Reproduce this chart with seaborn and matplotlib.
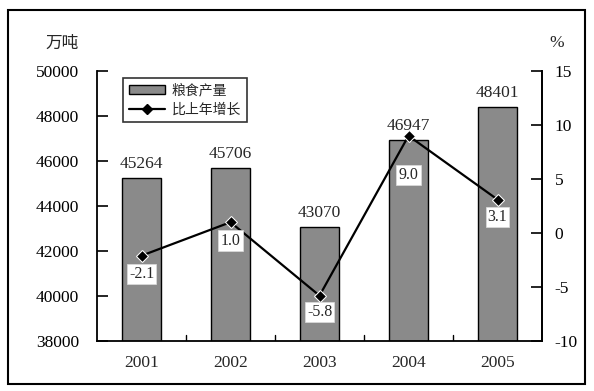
import numpy as np
import pandas as pd
import matplotlib
matplotlib.use("Agg")
import matplotlib.pyplot as plt
import seaborn as sns
from matplotlib.patches import Patch, Rectangle
import matplotlib.lines as mlines

# data
years = ['2001', '2002', '2003', '2004', '2005']
output = [45264, 45706, 43070, 46947, 48401]      # 万吨
growth = [-2.1, 1.0, -5.8, 9.0, 3.1]              # %
lab_drop = [1.7, 1.7, 1.5, 3.6, 1.6]              # label offset below marker

sns.set_theme(style="white")
plt.rcParams['font.family'] = ['Liberation Serif', 'Noto Sans CJK SC']
plt.rcParams['axes.unicode_minus'] = False
cjk = ['Noto Sans CJK SC', 'DejaVu Sans']

df = pd.DataFrame({'year': years, 'output': output, 'growth': growth})
df['pos'] = np.arange(len(years))

fig = plt.figure(figsize=(5.94, 3.91), dpi=100)
ax = fig.add_axes([97/594, 50/391, 445/594, 270/391])

sns.barplot(data=df, x='year', y='output', color='#8a8a8a', width=0.43,
            edgecolor='black', linewidth=1.0, saturation=1, ax=ax)
ax.set_ylim(38000, 50000)
ax.set_xlim(-0.5, 4.5)
ax.set_yticks(np.arange(38000, 50001, 2000))
ax.set_xticks(np.arange(len(years)))
ax.set_xticklabels(years)
ax.set_xlabel('')
ax.set_ylabel('')
for i, v in enumerate(output):
    ax.text(i, v + 250, str(v), ha='center', va='bottom', fontsize=12.5)

# category separators on bottom axis
for xb in np.arange(0.5, 4.5, 1):
    ax.plot([xb, xb], [38000, 38250], color='black', lw=1)

ax2 = ax.twinx()
sns.lineplot(data=df, x='pos', y='growth', color='black', marker='D',
             markersize=6, linewidth=1.6, ax=ax2)
ax2.set_ylim(-10, 15)
ax2.set_yticks(np.arange(-10, 16, 5))
ax2.set_ylabel('')
ax2.set_xlabel('')
for i, g in enumerate(growth):
    ax2.text(i, g - lab_drop[i], '%.1f' % g, ha='center', va='center', fontsize=11.5,
             bbox=dict(facecolor='white', edgecolor='#dddddd', linewidth=0.5, pad=1.5))

for a in (ax, ax2):
    a.spines['top'].set_visible(False)
    a.tick_params(axis='y', direction='in', length=8, width=1.2, colors='black',
                  labelsize=12.5)
    a.tick_params(axis='x', length=0, labelsize=12.5, pad=10)
ax.tick_params(axis='y', pad=13)
ax2.tick_params(axis='y', pad=9)
ax.spines['left'].set_linewidth(1.3)
ax.spines['bottom'].set_linewidth(1.3)
ax2.spines['right'].set_linewidth(1.3)
ax2.spines['left'].set_visible(False)
ax2.spines['bottom'].set_visible(False)
for s in ax.spines.values():
    s.set_color('black')
for s in ax2.spines.values():
    s.set_color('black')

fig.text(62/594, 1 - 43/391, '万吨', ha='center', va='center', fontsize=12, family=cjk)
fig.text(557/594, 1 - 43/391, '%', ha='center', va='center', fontsize=12.5)

handles = [Patch(facecolor='#8a8a8a', edgecolor='black', label='粮食产量'),
           mlines.Line2D([], [], color='black', marker='D', markersize=5, lw=1.6, label='比上年增长')]
leg = ax.legend(handles=handles, loc='upper left', bbox_to_anchor=(123/594, 1 - 78/391),
                bbox_transform=fig.transFigure, frameon=True, fancybox=False,
                prop={'family': cjk, 'size': 10}, borderpad=0.4, labelspacing=0.35,
                handlelength=2.6, handleheight=0.6, handletextpad=0.5, borderaxespad=0)
leg.get_frame().set_edgecolor('black')
leg.get_frame().set_linewidth(1.2)

fig.patches.append(Rectangle((8/594, 1 - 384/391), 577/594, 374/391, transform=fig.transFigure,
                             fill=False, edgecolor='black', linewidth=1.5))

fig.savefig('out.png', dpi=100)
